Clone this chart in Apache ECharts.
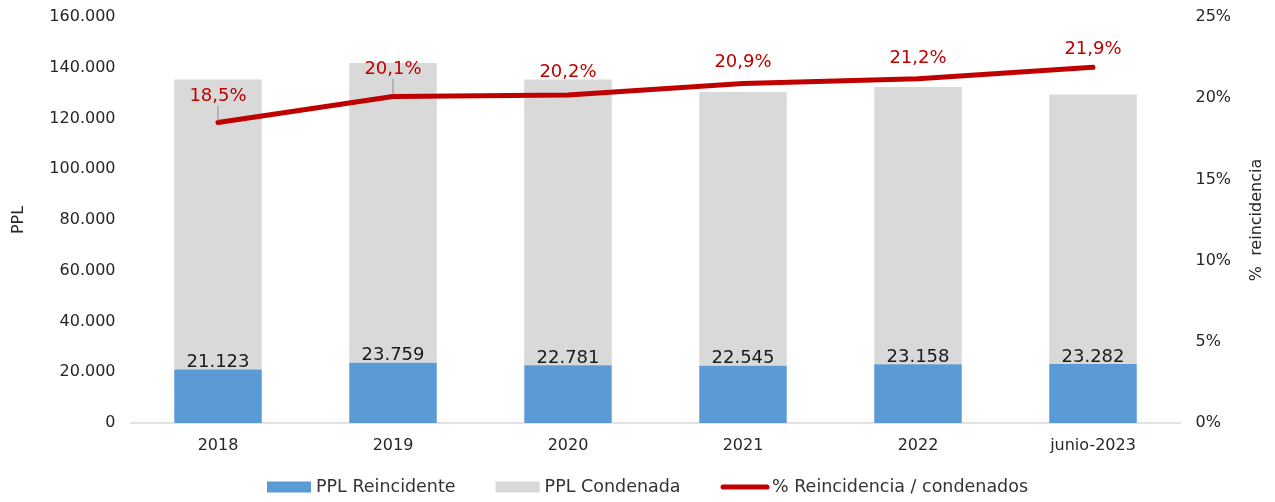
<!DOCTYPE html>
<html>
<head>
<meta charset="utf-8">
<script src="https://cdn.jsdelivr.net/npm/echarts@6/dist/echarts.min.js"></script>
<style>
  html, body { margin: 0; padding: 0; background: #fff; }
  #chart { width: 1275px; height: 502px; }
</style>
</head>
<body>
<div id="chart"></div>
<script>
var years = ['2018', '2019', '2020', '2021', '2022', 'junio-2023']
var reincidente = [21123, 23759, 22781, 22545, 23158, 23282]
var condenada = [114200, 118100, 112600, 107900, 109300, 106200]
var pctReincidencia = [18.5, 20.1, 20.2, 20.9, 21.2, 21.9]

function miles(v) {
    return String(Math.round(v)).replace(/\B(?=(\d{3})+(?!\d))/g, '.')
}

var myChart = echarts.init(document.getElementById('chart'))
var font = 'DejaVu Sans, Verdana, sans-serif'

var option = {
    animation: false,
    textStyle: { fontFamily: font },
    grid: {
        left: 130.5,
        right: 94.5,
        top: 17,
        bottom: 79
    },
    legend: {
        left: 262,
        bottom: 1,
        itemGap: 40,
        itemWidth: 44,
        itemHeight: 11,
        textStyle: { fontSize: 17.5, color: '#333', fontFamily: font },
        data: [
            { name: 'PPL Reincidente', icon: 'rect' },
            { name: 'PPL Condenada', icon: 'rect' },
            {
                name: '% Reincidencia / condenados',
                lineStyle: { width: 5, color: '#c00000' },
                itemStyle: { opacity: 0 }
            }
        ]
    },
    xAxis: {
        type: 'category',
        data: years,
        axisTick: { show: false },
        axisLine: { lineStyle: { color: '#d9d9d9', width: 1.5 } },
        axisLabel: { fontSize: 16, color: '#262626', margin: 15 }
    },
    yAxis: [{
        type: 'value',
        min: 0,
        max: 160000,
        interval: 20000,
        name: 'PPL',
        nameLocation: 'middle',
        nameRotate: 90,
        nameGap: 104,
        nameTextStyle: { fontSize: 16, color: '#262626' },
        splitLine: { show: false },
        axisLine: { show: false },
        axisTick: { show: false },
        axisLabel: { fontSize: 16, color: '#262626', margin: 15, formatter: miles }
    }, {
        type: 'value',
        min: 0,
        max: 25,
        interval: 5,
        name: '%  reincidencia',
        nameLocation: 'middle',
        nameRotate: 90,
        nameGap: 68,
        nameTextStyle: { fontSize: 16, color: '#262626' },
        splitLine: { show: false },
        axisLine: { show: false },
        axisTick: { show: false },
        axisLabel: { fontSize: 16, color: '#262626', margin: 15, formatter: '{value}%' }
    }],
    series: [{
        name: 'PPL Reincidente',
        type: 'bar',
        stack: 'ppl',
        barWidth: '50%',
        data: reincidente,
        itemStyle: { color: '#5b9bd5' },
        label: {
            show: true,
            position: 'top',
            distance: -2,
            fontSize: 18,
            color: '#1a1a1a',
            formatter: function(p) { return miles(p.value) }
        },
        z: 3
    }, {
        name: 'PPL Condenada',
        type: 'bar',
        stack: 'ppl',
        barWidth: '50%',
        data: condenada,
        itemStyle: { color: '#d9d9d9' },
        z: 2
    }, {
        name: '% Reincidencia / condenados',
        type: 'line',
        yAxisIndex: 1,
        data: pctReincidencia.map(function(v, i) {
            return {
                value: v,
                labelLine: { show: i < 2, lineStyle: { color: '#a6a6a6', width: 1.5 } }
            }
        }),
        symbol: 'circle',
        symbolSize: 4,
        lineStyle: { color: '#c00000', width: 5, cap: 'round' },
        itemStyle: { color: '#c00000' },
        label: {
            show: true,
            position: 'top',
            distance: 5,
            fontSize: 18,
            color: '#c00000',
            formatter: function(p) { return p.value.toFixed(1).replace('.', ',') + '%' }
        },
        labelLayout: function(p) {
            var dy = [-10, -11, -7, -5, -4, -2]
            return { dy: dy[p.dataIndex] }
        },
        z: 5
    }]
}
myChart.setOption(option)
</script>
</body>
</html>
